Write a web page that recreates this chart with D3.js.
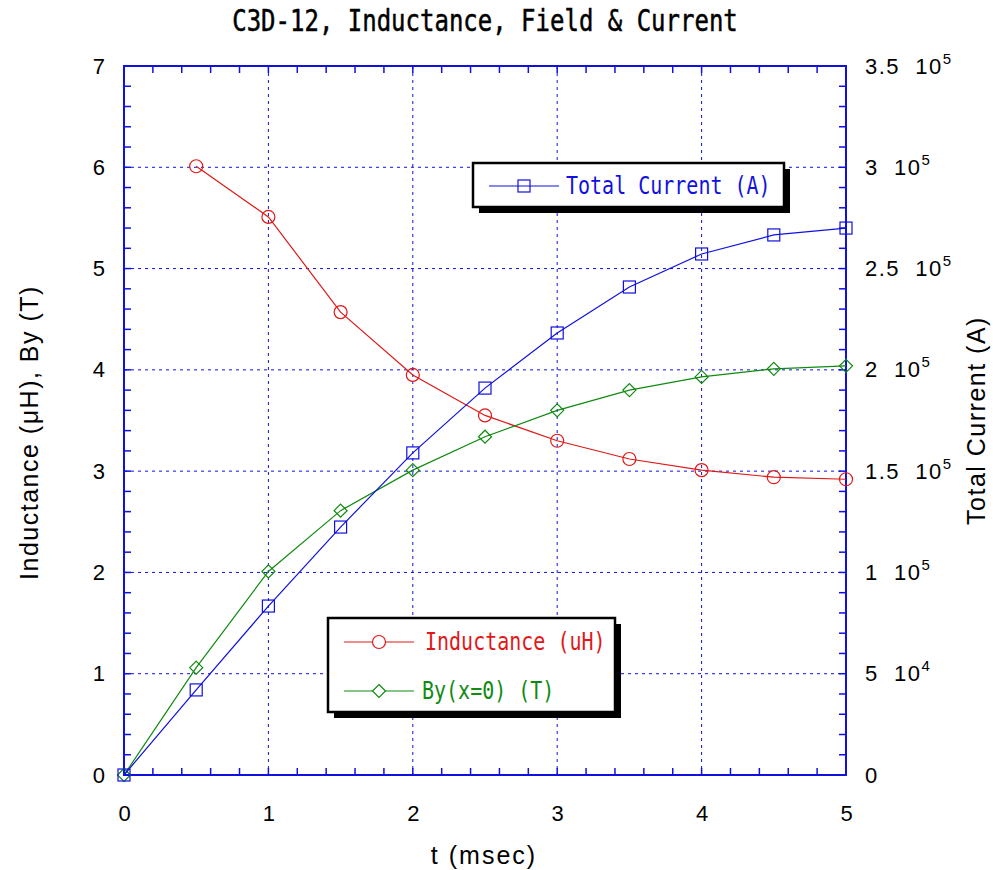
<!DOCTYPE html>
<html>
<head>
<meta charset="utf-8">
<script src="https://cdn.jsdelivr.net/npm/d3@7"></script>
<style>
    body { margin: 0; background: #fff; }
    svg { display: block; }
</style>
</head>
<body>
<div id="chart"></div>
<script>
// data
var tValues = [0, 0.5, 1, 1.5, 2, 2.5, 3, 3.5, 4, 4.5, 5];
var inductance = [null, 6.01, 5.51, 4.57, 3.95, 3.55, 3.30, 3.12, 3.01, 2.94, 2.92];
var byField = [0, 1.06, 2.01, 2.61, 3.01, 3.34, 3.60, 3.80, 3.93, 4.01, 4.04];
var totalCurrent = [0, 42000, 83400, 122400, 159000, 191000, 218200, 240900, 257200, 266600, 270000];
var xTicks = [0, 1, 2, 3, 4, 5];
var yTicks = [0, 1, 2, 3, 4, 5, 6, 7];
var y2Ticks = [0, 50000, 100000, 150000, 200000, 250000, 300000, 350000];

var width = 993,
    height = 870,
    margin = { top: 66, right: 147, bottom: 95, left: 124 },
    plotW = width - margin.left - margin.right,
    plotH = height - margin.top - margin.bottom,
    blue = "#1010e0",
    red = "#e01818",
    green = "#108a10",
    monoFont = "'DejaVu Sans Mono', monospace",
    sansFont = "'Liberation Sans', Arial, sans-serif";

var x = d3.scaleLinear().domain([0, 5]).range([0, plotW]);
var y = d3.scaleLinear().domain([0, 7]).range([plotH, 0]);
var y2 = d3.scaleLinear().domain([0, 350000]).range([plotH, 0]);

var svg = d3.select("#chart").append("svg")
    .attr("width", width)
    .attr("height", height);

// title, squeezed sideways like the original font
svg.append("g")
    .attr("transform", "translate(" + (margin.left + plotW / 2) + ",31) scale(1,1.25)")
    .append("text")
    .attr("text-anchor", "middle")
    .attr("font-family", monoFont)
    .attr("font-size", 24)
    .attr("stroke", "#000")
    .attr("stroke-width", 0.4)
    .attr("fill", "#000")
    .text("C3D-12, Inductance, Field & Current");

var g = svg.append("g")
    .attr("transform", "translate(" + margin.left + "," + margin.top + ")");

// grid
g.selectAll(".gx").data(xTicks.slice(1, -1)).enter().append("line")
    .attr("x1", x).attr("x2", x).attr("y1", 0).attr("y2", plotH)
    .attr("stroke", blue).attr("stroke-width", 1).attr("stroke-dasharray", "3,4");
g.selectAll(".gy").data(yTicks.slice(1, -1)).enter().append("line")
    .attr("y1", y).attr("y2", y).attr("x1", 0).attr("x2", plotW)
    .attr("stroke", blue).attr("stroke-width", 1).attr("stroke-dasharray", "3,4");

// minor/major inward ticks
function minorTicks(scale, step) {
    var d = scale.domain(), out = [], v;
    for (v = d[0]; v <= d[1] + 1e-9; v += step) out.push(v);
    return out;
}
var xMinor = minorTicks(x, 0.2), yMinor = minorTicks(y, 0.2), y2Minor = minorTicks(y2, 10000);

g.selectAll(".tb").data(xMinor).enter().append("line")
    .attr("x1", x).attr("x2", x).attr("y1", plotH).attr("y2", plotH - 7)
    .attr("stroke", blue).attr("stroke-width", 1.5);
g.selectAll(".tt").data(xMinor).enter().append("line")
    .attr("x1", x).attr("x2", x).attr("y1", 0).attr("y2", 7)
    .attr("stroke", blue).attr("stroke-width", 1.5);
g.selectAll(".tl").data(yMinor).enter().append("line")
    .attr("y1", y).attr("y2", y).attr("x1", 0).attr("x2", 7)
    .attr("stroke", blue).attr("stroke-width", 1.5);
g.selectAll(".tr").data(y2Minor).enter().append("line")
    .attr("y1", y2).attr("y2", y2).attr("x1", plotW).attr("x2", plotW - 7)
    .attr("stroke", blue).attr("stroke-width", 1.5);

// frame
g.append("rect")
    .attr("width", plotW).attr("height", plotH)
    .attr("fill", "none").attr("stroke", blue).attr("stroke-width", 2);

// axes labels via d3 axes (ticks hidden, only text)
var xAxis = g.append("g")
    .attr("transform", "translate(0," + plotH + ")")
    .call(d3.axisBottom(x).tickValues(xTicks).tickSize(0).tickPadding(30).tickFormat(d3.format("d")));
var yAxis = g.append("g")
    .call(d3.axisLeft(y).tickValues(yTicks).tickSize(0).tickPadding(19).tickFormat(d3.format("d")));
var y2Axis = g.append("g")
    .attr("transform", "translate(" + plotW + ",0)")
    .call(d3.axisRight(y2).tickValues(y2Ticks).tickSize(0).tickPadding(19).tickFormat(""));

[xAxis, yAxis, y2Axis].forEach(function (a) {
    a.select(".domain").remove();
    a.selectAll("text")
        .attr("font-family", sansFont)
        .attr("font-size", 22)
        .attr("fill", "#000");
});

// right labels like "1.5  10^5"
y2Axis.selectAll(".tick text")
    .style("white-space", "pre")
    .attr("letter-spacing", 1.5)
    .each(function (d) {
        var t = d3.select(this);
        if (d === 0) {
            t.text("0");
            return;
        }
        var e = Math.floor(Math.log10(d)),
            m = d / Math.pow(10, e);
        t.append("tspan").text(d3.format("")(+m.toFixed(2)) + "  10");
        t.append("tspan").attr("dy", -10).attr("font-size", 15).attr("letter-spacing", 0).text(e);
    });

// axis titles
svg.append("text")
    .attr("x", margin.left + plotW / 2 - 1)
    .attr("y", 864)
    .attr("text-anchor", "middle")
    .attr("font-family", sansFont)
    .attr("font-size", 25)
    .attr("letter-spacing", 2)
    .text("t (msec)");
svg.append("text")
    .attr("transform", "translate(38," + (margin.top + plotH / 2 + 12) + ") rotate(-90)")
    .attr("text-anchor", "middle")
    .attr("font-family", sansFont)
    .attr("font-size", 25)
    .attr("letter-spacing", 1.5)
    .text("Inductance (\u03bcH), By (T)");
svg.append("text")
    .attr("transform", "translate(985," + (margin.top + plotH / 2) + ") rotate(-90)")
    .attr("text-anchor", "middle")
    .attr("font-family", sansFont)
    .attr("font-size", 25)
    .attr("letter-spacing", 1.5)
    .text("Total Current (A)");

// series
var series = [
    { name: "Inductance (uH)", values: inductance, scale: y, color: red, marker: "circle" },
    { name: "By(x=0) (T)", values: byField, scale: y, color: green, marker: "diamond" },
    { name: "Total Current (A)", values: totalCurrent, scale: y2, color: blue, marker: "square" }
];

function drawMarker(sel, type, color) {
    if (type === "circle") {
        sel.append("circle").attr("r", 6.5);
    } else if (type === "square") {
        sel.append("rect").attr("x", -6).attr("y", -6).attr("width", 12).attr("height", 12);
    } else {
        sel.append("path").attr("d", "M0,-6.5L6.5,0L0,6.5L-6.5,0Z");
    }
    sel.selectAll("circle,rect,path")
        .attr("fill", "none").attr("stroke", color).attr("stroke-width", 1.2);
}

series.forEach(function (s) {
    var pts = tValues.map(function (t, i) {
        return { t: t, v: s.values[i] };
    }).filter(function (p) { return p.v !== null; });

    var line = d3.line()
        .x(function (p) { return x(p.t); })
        .y(function (p) { return s.scale(p.v); });

    g.append("path")
        .datum(pts)
        .attr("d", line)
        .attr("fill", "none")
        .attr("stroke", s.color)
        .attr("stroke-width", 1.2);

    g.selectAll(null).data(pts).enter().append("g")
        .attr("transform", function (p) {
            return "translate(" + x(p.t) + "," + s.scale(p.v) + ")";
        })
        .each(function () { drawMarker(d3.select(this), s.marker, s.color); });
});

// legends
function legendBox(x0, y0, w, h, items) {
    var lg = svg.append("g").attr("transform", "translate(" + x0 + "," + y0 + ")");
    lg.append("rect").attr("x", 6).attr("y", 6).attr("width", w).attr("height", h).attr("fill", "#000");
    lg.append("rect").attr("width", w).attr("height", h)
        .attr("fill", "#fff").attr("stroke", "#000").attr("stroke-width", 2.5);
    items.forEach(function (it) {
        lg.append("line")
            .attr("x1", 16).attr("x2", 86).attr("y1", it.dy).attr("y2", it.dy)
            .attr("stroke", it.s.color).attr("stroke-width", 1.2);
        var m = lg.append("g").attr("transform", "translate(51," + it.dy + ")");
        drawMarker(m, it.s.marker, it.s.color);
        if (it.s.marker !== "square") m.selectAll("*").attr("fill", "#fff");
        lg.append("g")
            .attr("transform", "translate(" + it.tx + "," + (it.dy + 8) + ") scale(1,1.22)")
            .append("text")
            .attr("font-family", monoFont)
            .attr("font-size", 20)
            .attr("fill", it.s.color)
            .text(it.s.name);
    });
}

legendBox(473, 163, 311, 44, [{ s: series[2], dy: 23, tx: 93 }]);
legendBox(328, 618, 287, 94, [
    { s: series[0], dy: 24, tx: 97 },
    { s: series[1], dy: 73, tx: 94 }
]);
</script>
</body>
</html>
